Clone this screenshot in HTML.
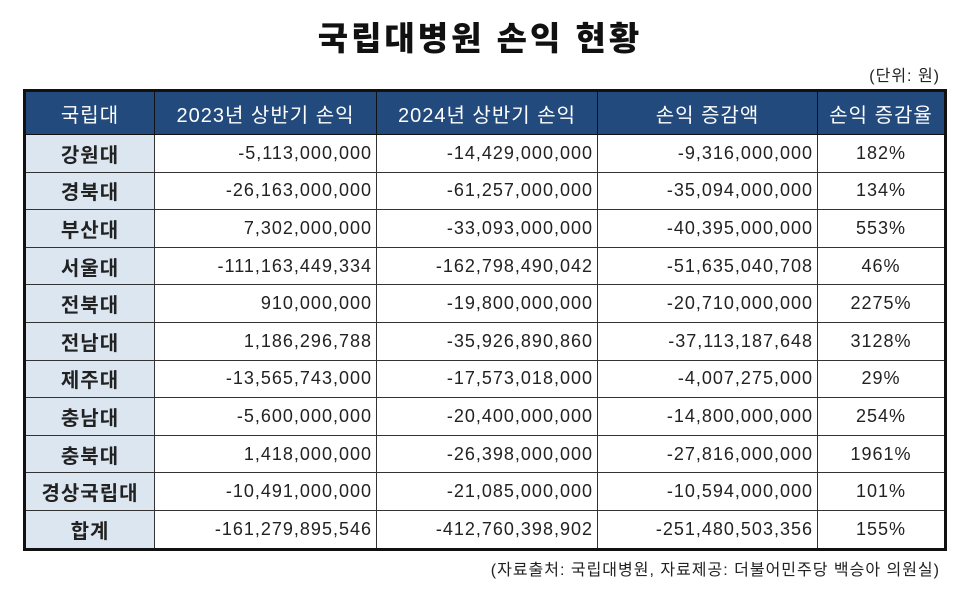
<!DOCTYPE html>
<html><head><meta charset="utf-8"><style>
body{margin:0;width:960px;height:590px;background:#fff;position:relative;font-family:"Liberation Sans","Noto Sans CJK KR",sans-serif;overflow:hidden}
.t{position:absolute;left:0;width:960px;top:12px;text-align:center;font-size:33px;font-weight:900;color:#111;letter-spacing:3px}
.u{position:absolute;right:20px;top:62px;font-size:16px;color:#222;letter-spacing:1px}
table{position:absolute;left:23px;top:89px;width:921px;border-collapse:collapse;border:3px solid #111;table-layout:fixed}
td,th{border:1.5px solid #333;height:36.6px;padding:0 4px;font-size:18px;color:#222;white-space:nowrap;letter-spacing:1px}
th{background:#234a7c;color:#fff;font-weight:normal;height:42px;border-color:#111;font-size:20px}
td{text-align:right}
td:first-child{background:#dce6f1;text-align:center;font-weight:bold;font-size:20px}
td:last-child{text-align:center}
.s{position:absolute;right:20px;top:556px;font-size:16px;color:#222;letter-spacing:1px}
</style></head><body>
<div class="t">국립대병원 손익 현황</div>
<div class="u">(단위: 원)</div>
<table>
<colgroup><col style="width:130px"><col style="width:222px"><col style="width:221px"><col style="width:220px"><col style="width:128px"></colgroup>
<tr><th>국립대</th><th>2023년 상반기 손익</th><th>2024년 상반기 손익</th><th>손익 증감액</th><th>손익 증감율</th></tr>
<tr><td>강원대</td><td>-5,113,000,000</td><td>-14,429,000,000</td><td>-9,316,000,000</td><td>182%</td></tr>
<tr><td>경북대</td><td>-26,163,000,000</td><td>-61,257,000,000</td><td>-35,094,000,000</td><td>134%</td></tr>
<tr><td>부산대</td><td>7,302,000,000</td><td>-33,093,000,000</td><td>-40,395,000,000</td><td>553%</td></tr>
<tr><td>서울대</td><td>-111,163,449,334</td><td>-162,798,490,042</td><td>-51,635,040,708</td><td>46%</td></tr>
<tr><td>전북대</td><td>910,000,000</td><td>-19,800,000,000</td><td>-20,710,000,000</td><td>2275%</td></tr>
<tr><td>전남대</td><td>1,186,296,788</td><td>-35,926,890,860</td><td>-37,113,187,648</td><td>3128%</td></tr>
<tr><td>제주대</td><td>-13,565,743,000</td><td>-17,573,018,000</td><td>-4,007,275,000</td><td>29%</td></tr>
<tr><td>충남대</td><td>-5,600,000,000</td><td>-20,400,000,000</td><td>-14,800,000,000</td><td>254%</td></tr>
<tr><td>충북대</td><td>1,418,000,000</td><td>-26,398,000,000</td><td>-27,816,000,000</td><td>1961%</td></tr>
<tr><td>경상국립대</td><td>-10,491,000,000</td><td>-21,085,000,000</td><td>-10,594,000,000</td><td>101%</td></tr>
<tr><td>합계</td><td>-161,279,895,546</td><td>-412,760,398,902</td><td>-251,480,503,356</td><td>155%</td></tr>
</table>
<div class="s">(자료출처: 국립대병원, 자료제공: 더불어민주당 백승아 의원실)</div>
</body></html>
